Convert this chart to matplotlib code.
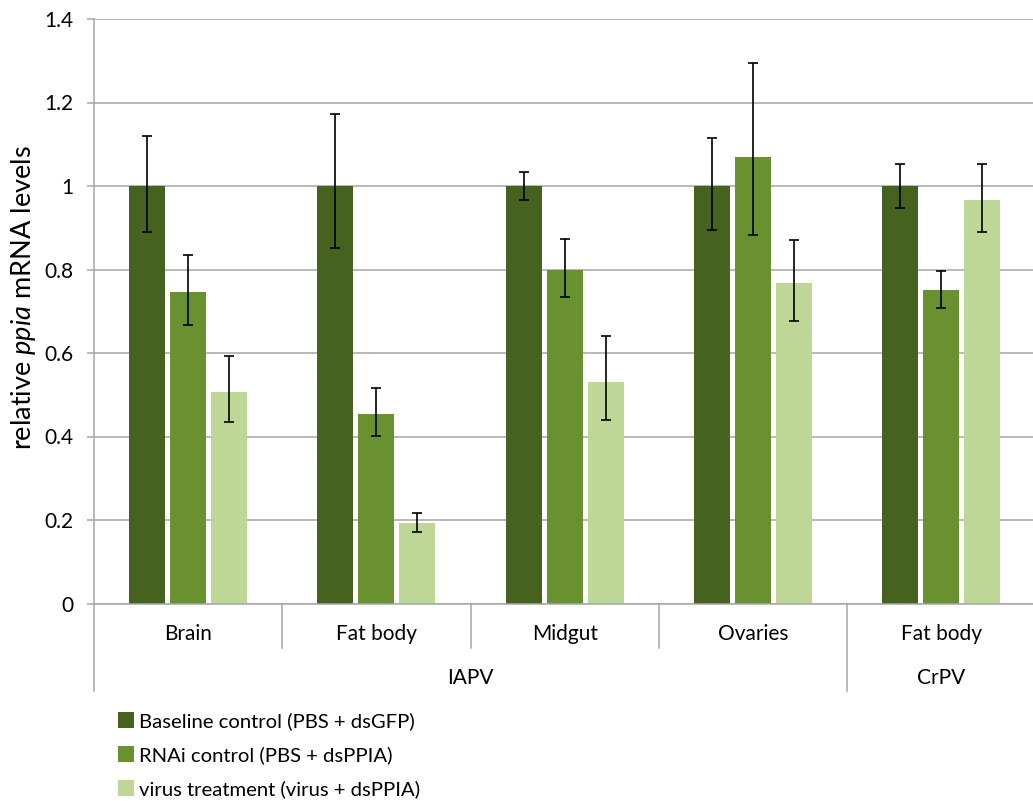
import numpy as np
import matplotlib
matplotlib.use("Agg")
import matplotlib.pyplot as plt
from matplotlib.patches import Patch

plt.rcParams['font.family'] = ['Lato', 'DejaVu Sans']
plt.rcParams['mathtext.fontset'] = 'custom'
plt.rcParams['mathtext.rm'] = 'Lato'
plt.rcParams['mathtext.it'] = 'Lato:italic'

# Gewebe und Virus-Gruppen
gewebe = ["Brain", "Fat body", "Midgut", "Ovaries", "Fat body"]
viren = ["IAPV", "CrPV"]
viren_anzahl = [4, 1]

serien = ["Baseline control (PBS + dsGFP)",
          "RNAi control (PBS + dsPPIA)",
          "virus treatment (virus + dsPPIA)"]
farben = ["#46621f", "#6a9130", "#bed797"]

# Mittelwerte und Fehler (unten / oben) pro Serie
baseline = [1.0, 1.0, 1.0, 1.0, 1.0]
baseline_unten = [0.109, 0.148, 0.034, 0.106, 0.053]
baseline_oben = [0.120, 0.172, 0.034, 0.116, 0.053]
rnai = [0.747, 0.455, 0.799, 1.069, 0.751]
rnai_unten = [0.080, 0.054, 0.065, 0.186, 0.043]
rnai_oben = [0.088, 0.061, 0.073, 0.225, 0.045]
virus = [0.507, 0.192, 0.531, 0.768, 0.967]
virus_unten = [0.073, 0.020, 0.091, 0.092, 0.077]
virus_oben = [0.087, 0.024, 0.110, 0.103, 0.086]

werte = [baseline, rnai, virus]
fehler = [[baseline_unten, baseline_oben],
          [rnai_unten, rnai_oben],
          [virus_unten, virus_oben]]

fig = plt.figure(figsize=(10.33, 8.01), dpi=100)
ax = fig.add_axes([94/1033, 1 - 603.5/801, 941.5/1033, 584.5/801])

grau = "#a6a6a6"
x = np.arange(len(gewebe)) + 0.5
breite = 0.191
abstand = 0.2177

for i in range(3):
    ax.bar(x + (i - 1) * abstand, werte[i], breite, color=farben[i], zorder=2)
    ax.errorbar(x + (i - 1) * abstand, werte[i], yerr=fehler[i], fmt="none",
                ecolor="black", elinewidth=1.2, capsize=3.6, capthick=1.2, zorder=3)

ax.set_xlim(0, 5)
ax.set_ylim(0, 1.4)
ax.set_yticks(np.arange(0, 1.41, 0.2))
ax.set_yticklabels(["0", "0.2", "0.4", "0.6", "0.8", "1", "1.2", "1.4"])
ax.yaxis.grid(True, color=grau, lw=1.1, zorder=0)
ax.tick_params(axis="y", length=5, color=grau, width=1.1, labelsize=15, pad=10)
ax.tick_params(axis="x", length=0, labelbottom=False)
for s in ["top", "right"]:
    ax.spines[s].set_visible(False)
ax.spines["left"].set_color(grau)
ax.spines["bottom"].set_color(grau)
ax.spines["left"].set_linewidth(1.1)
ax.spines["bottom"].set_linewidth(1.1)

fig.text(24/1033, 1 - 298/801, "relative $\\mathit{ppia}$ mRNA levels", rotation=90,
         ha="center", va="center", fontsize=19.5)

# Kategorie-Achse mit zwei Ebenen
trans = ax.get_xaxis_transform()
h = 584.5
kurz = -44 / h
lang = -87 / h
for k in range(5):
    unten = lang if k in (0, 4) else kurz
    ax.plot([k, k], [0, unten], color=grau, lw=1.1, transform=trans, clip_on=False)
for k, name in enumerate(gewebe):
    ax.text(x[k], -30 / h, name, transform=trans, ha="center", va="center", fontsize=15)

start = 0
for name, n in zip(viren, viren_anzahl):
    ax.text(start + n / 2, -74 / h, name, transform=trans, ha="center", va="center", fontsize=15)
    start += n

handles = [Patch(facecolor=c) for c in farben]
fig.legend(handles, serien, loc="upper left", bbox_to_anchor=(110/1033, 1 - 704/801),
           frameon=False, fontsize=14.6, handlelength=0.8, handleheight=0.8,
           handletextpad=0.25, labelspacing=0.8, borderaxespad=0)

fig.savefig("out.png", dpi=100)
